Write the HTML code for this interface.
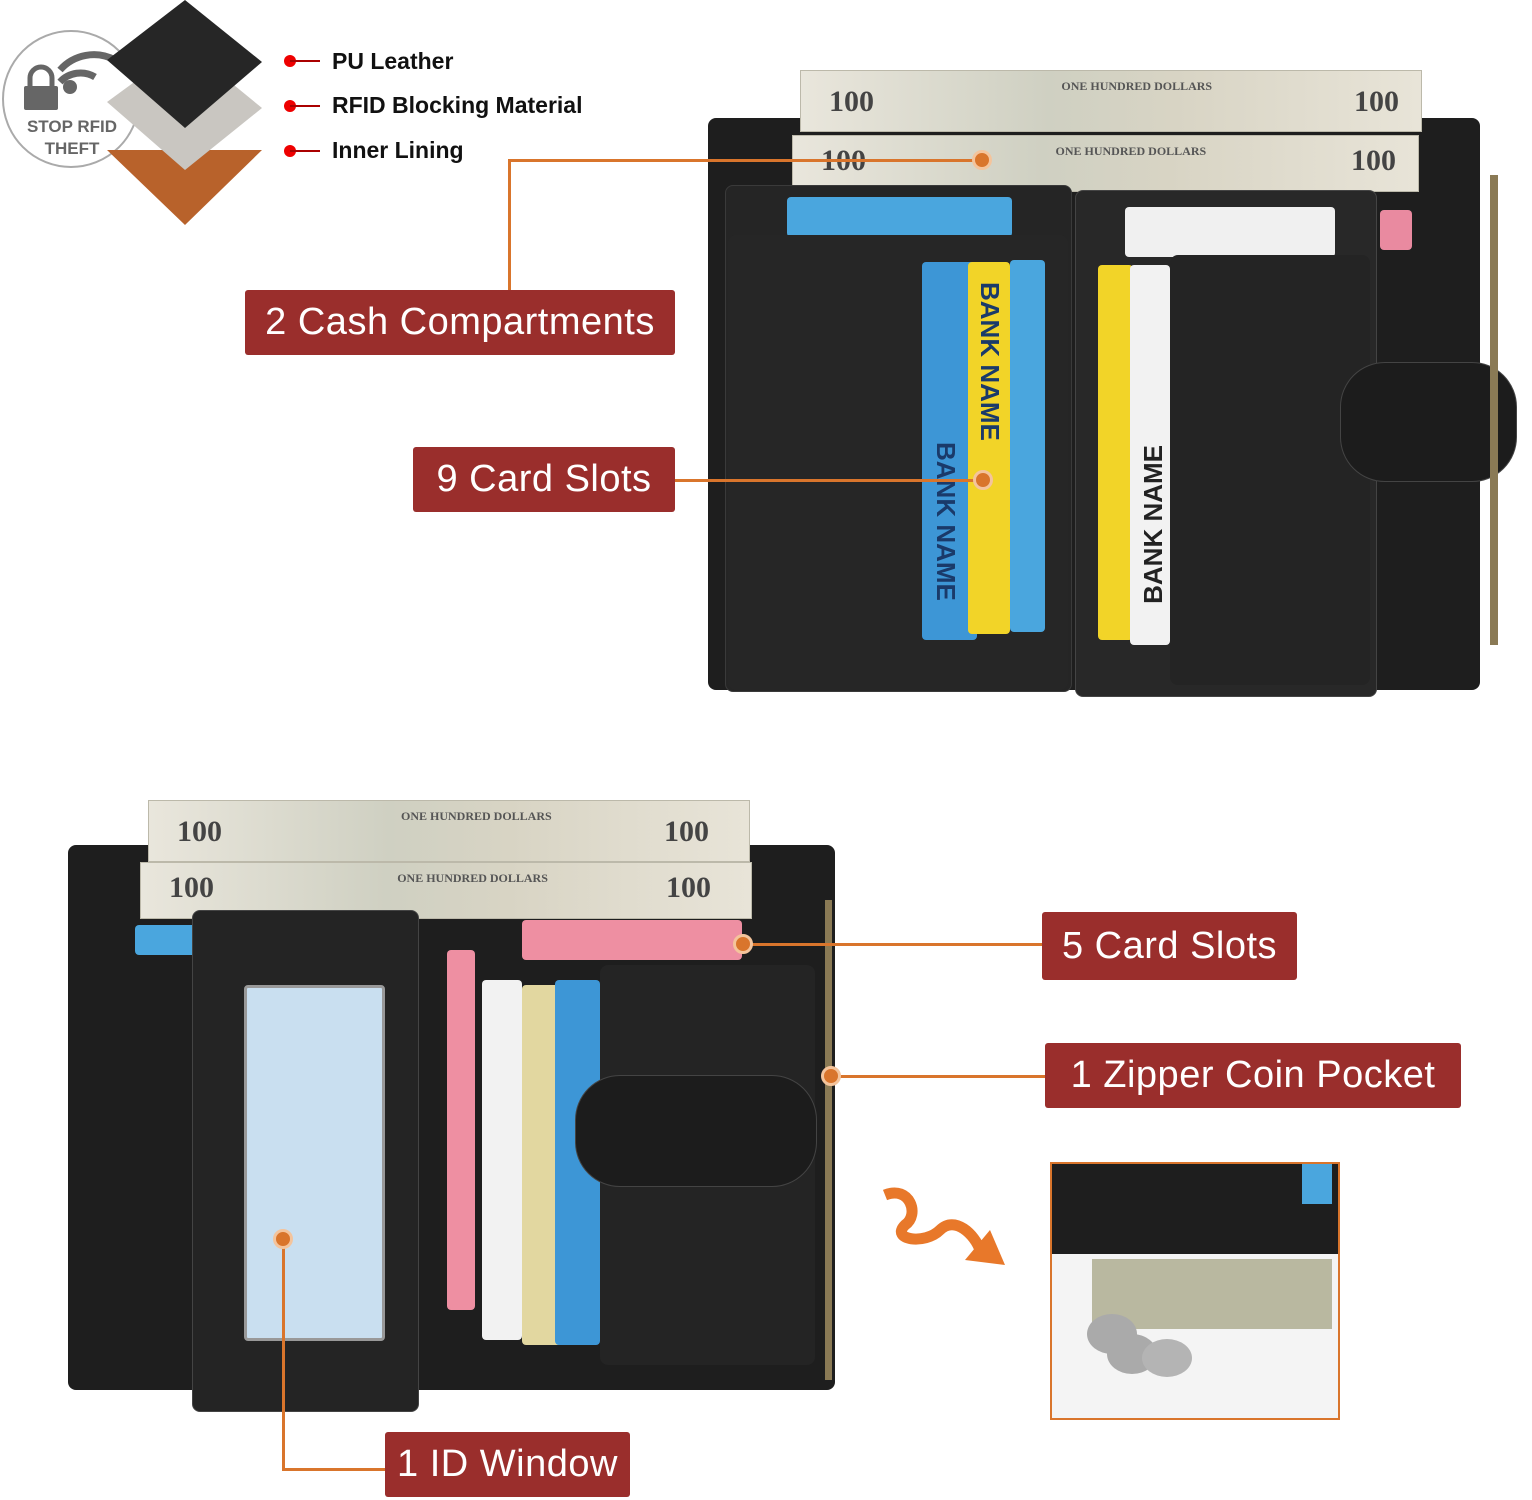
<!DOCTYPE html>
<html><head><meta charset="utf-8"><style>
body{margin:0;width:1532px;height:1500px;background:#fff;position:relative;overflow:hidden;font-family:"Liberation Sans",sans-serif}
.a{position:absolute}
.lbl{position:absolute;background:#9a2e2c;color:#fff;font-size:38px;display:flex;align-items:center;justify-content:center;border-radius:3px;letter-spacing:0.5px}
.ln{position:absolute;background:#d9752c}
.dot{position:absolute;width:20px;height:20px;border-radius:50%;background:#d9752c;border:3px solid #f4c49c;box-sizing:border-box}
.bk{position:absolute;background:#1e1e1e;border-radius:8px}
.bill{position:absolute;background:linear-gradient(90deg,#e9e6dc,#cfd0c2 40%,#d8d4c4 60%,#e8e4d8);border:1px solid #bcb9aa;overflow:hidden}
.bill b{position:absolute;top:14px;font-family:"Liberation Serif",serif;font-size:30px;color:#444}
.bill i{position:absolute;top:8px;left:42%;font-family:"Liberation Serif",serif;font-size:12px;font-style:normal;color:#555;font-weight:bold}
.card{position:absolute;border-radius:4px;overflow:hidden}
.vt{position:absolute;writing-mode:vertical-rl;font-weight:bold;font-size:26px;color:#1a3a6a;left:8px;top:180px}
.t{font-weight:bold;font-size:23px;color:#111}
</style></head><body>
<div class="a" style="left:2px;top:30px;width:138px;height:138px;border-radius:50%;border:2px solid #aaa;box-sizing:border-box"></div>
<svg class="a" style="left:0;top:0" width="320" height="240">
<path d="M60 70 a45 45 0 0 1 55 -10" stroke="#666" stroke-width="7" fill="none"/>
<path d="M60 82 a28 28 0 0 1 35 -5" stroke="#666" stroke-width="7" fill="none"/>
<circle cx="70" cy="87" r="7" fill="#666"/>
<rect x="24" y="86" width="34" height="24" fill="#666" rx="2"/>
<path d="M30 86 v-8 a11 11 0 0 1 22 0 v8" stroke="#666" stroke-width="5" fill="none"/>
<polygon points="185,150 262,150 185,225 107,150" fill="#b8622b"/>
<polygon points="185,45 262,108 185,170 107,102" fill="#c9c6c1"/>
<polygon points="185,0 262,62 185,128 107,60" fill="#262626"/>
<circle cx="290" cy="61" r="6" fill="#e00"/><rect x="290" y="60" width="38" height="2" fill="#a00"/>
<circle cx="290" cy="106" r="6" fill="#e00"/><rect x="290" y="105" width="38" height="2" fill="#a00"/>
<circle cx="290" cy="151" r="6" fill="#e00"/><rect x="290" y="150" width="38" height="2" fill="#a00"/>
</svg>
<div class="a" style="left:14px;top:116px;width:116px;text-align:center;color:#666;font-weight:bold;font-size:17px;line-height:22px">STOP RFID<br>THEFT</div>
<div class="a t" style="left:332px;top:48px">PU Leather</div>
<div class="a t" style="left:332px;top:92px">RFID Blocking Material</div>
<div class="a t" style="left:332px;top:137px">Inner Lining</div>

<!-- Wallet 1 -->
<div class="bk" style="left:708px;top:118px;width:772px;height:572px"></div>
<div class="bill" style="left:800px;top:70px;width:620px;height:60px"><b style="left:28px">100</b><i>ONE HUNDRED DOLLARS</i><b style="right:22px">100</b></div>
<div class="bill" style="left:792px;top:135px;width:625px;height:55px"><b style="left:28px;top:8px">100</b><i>ONE HUNDRED DOLLARS</i><b style="right:22px;top:8px">100</b></div>
<div class="bk" style="left:725px;top:185px;width:345px;height:505px;background:#252525;border:1px solid #3a3a3a"></div>
<div class="card" style="left:787px;top:197px;width:225px;height:40px;background:#4aa6de"></div>
<div class="bk" style="left:728px;top:235px;width:340px;height:455px;background:#262626"></div>
<div class="card" style="left:922px;top:262px;width:55px;height:378px;background:#3d96d6"><span class="vt">BANK NAME</span></div>
<div class="card" style="left:968px;top:262px;width:42px;height:372px;background:#f2d428"><span class="vt" style="top:20px;left:6px">BANK NAME</span></div>
<div class="card" style="left:1010px;top:260px;width:35px;height:372px;background:#4aa6de"></div>
<div class="bk" style="left:1075px;top:190px;width:300px;height:505px;background:#282828;border:1px solid #444"></div>
<div class="card" style="left:1125px;top:207px;width:210px;height:50px;background:#f0f0f0"></div>
<div class="card" style="left:1380px;top:210px;width:32px;height:40px;background:#e98aa0"></div>
<div class="card" style="left:1098px;top:265px;width:35px;height:375px;background:#f2d428"></div>
<div class="card" style="left:1130px;top:265px;width:40px;height:380px;background:#f2f2f2"><span class="vt" style="transform:rotate(180deg);top:180px;left:8px;color:#222">BANK NAME</span></div>
<div class="bk" style="left:1170px;top:255px;width:200px;height:430px;background:#242424"></div>
<div class="bk" style="left:1340px;top:362px;width:175px;height:118px;border-radius:45px;background:#1c1c1c;border:1px solid #444"></div>
<div class="a" style="left:1490px;top:175px;width:8px;height:470px;background:#8a7a55"></div>

<!-- Wallet 2 -->
<div class="bk" style="left:68px;top:845px;width:767px;height:545px"></div>
<div class="bill" style="left:148px;top:800px;width:600px;height:60px"><b style="left:28px">100</b><i>ONE HUNDRED DOLLARS</i><b style="right:40px">100</b></div>
<div class="bill" style="left:140px;top:862px;width:610px;height:55px"><b style="left:28px;top:8px">100</b><i>ONE HUNDRED DOLLARS</i><b style="right:40px;top:8px">100</b></div>
<div class="card" style="left:135px;top:925px;width:80px;height:30px;background:#4aa6de"></div>
<div class="card" style="left:522px;top:920px;width:220px;height:40px;background:#ee8fa2"></div>
<div class="bk" style="left:192px;top:910px;width:225px;height:500px;background:#242424;border:1px solid #444"></div>
<div class="card" style="left:244px;top:985px;width:135px;height:350px;background:#c9dff0;border:3px solid #999"></div>
<div class="card" style="left:447px;top:950px;width:28px;height:360px;background:#ee8fa2"></div>
<div class="card" style="left:482px;top:980px;width:40px;height:360px;background:#f2f2f2"></div>
<div class="card" style="left:522px;top:985px;width:40px;height:360px;background:#e2d7a0"></div>
<div class="card" style="left:555px;top:980px;width:45px;height:365px;background:#3d96d6"></div>
<div class="bk" style="left:600px;top:965px;width:215px;height:400px;background:#242424"></div>
<div class="bk" style="left:575px;top:1075px;width:240px;height:110px;border-radius:45px;background:#1c1c1c;border:1px solid #444"></div>
<div class="a" style="left:825px;top:900px;width:7px;height:480px;background:#8a7a55"></div>

<!-- inset -->
<div class="a" style="left:1050px;top:1162px;width:290px;height:258px;border:2px solid #d9752c;box-sizing:border-box;background:#f4f4f4;overflow:hidden">
<div class="a" style="left:0;top:0;width:290px;height:90px;background:#1e1e1e"></div>
<div class="a" style="left:250px;top:0;width:30px;height:40px;background:#4aa6de"></div>
<div class="a" style="left:40px;top:95px;width:240px;height:70px;background:#b9b8a0"></div>
<div class="a" style="left:35px;top:150px;width:50px;height:40px;background:#aaa;border-radius:50%"></div>
<div class="a" style="left:55px;top:170px;width:50px;height:40px;background:#aaa;border-radius:50%"></div>
<div class="a" style="left:90px;top:175px;width:50px;height:38px;background:#b4b4b4;border-radius:50%"></div>
</div>
<svg class="a" style="left:880px;top:1185px" width="130" height="90"><path d="M5 10 C30 0 40 30 25 40 C10 55 45 60 60 45 C75 30 95 50 100 65" stroke="#e8782a" stroke-width="11" fill="none"/><polygon points="85,75 125,80 110,45" fill="#e8782a"/></svg>

<div class="ln" style="left:508px;top:159px;width:474px;height:3px"></div>
<div class="ln" style="left:508px;top:159px;width:3px;height:131px"></div>
<div class="dot" style="left:972px;top:150px"></div>
<div class="ln" style="left:675px;top:479px;width:308px;height:3px"></div>
<div class="dot" style="left:973px;top:470px"></div>
<div class="ln" style="left:742px;top:943px;width:300px;height:3px"></div>
<div class="dot" style="left:733px;top:934px"></div>
<div class="ln" style="left:830px;top:1075px;width:215px;height:3px"></div>
<div class="dot" style="left:821px;top:1066px"></div>
<div class="ln" style="left:282px;top:1238px;width:3px;height:232px"></div>
<div class="ln" style="left:282px;top:1468px;width:103px;height:3px"></div>
<div class="dot" style="left:273px;top:1229px"></div>

<div class="lbl" style="left:245px;top:290px;width:430px;height:65px">2 Cash Compartments</div>
<div class="lbl" style="left:413px;top:447px;width:262px;height:65px">9 Card Slots</div>
<div class="lbl" style="left:1042px;top:912px;width:255px;height:68px">5 Card Slots</div>
<div class="lbl" style="left:1045px;top:1043px;width:416px;height:65px">1 Zipper Coin Pocket</div>
<div class="lbl" style="left:385px;top:1432px;width:245px;height:65px">1 ID Window</div>
</body></html>
